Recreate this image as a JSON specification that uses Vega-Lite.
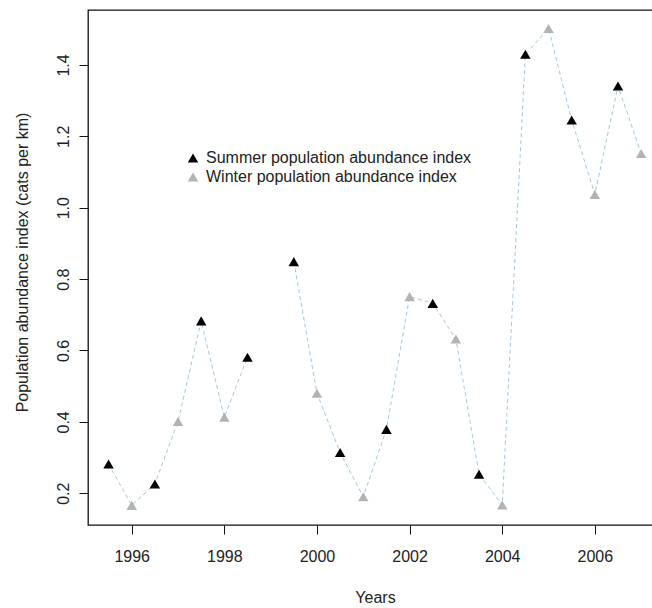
{
  "$schema": "https://vega.github.io/schema/vega-lite/v6.json",
  "width": 574,
  "height": 515,
  "autosize": {"type": "none"},
  "padding": {"left": 88, "top": 10, "right": 0, "bottom": 83},
  "background": "white",
  "config": {
    "font": "Liberation Sans",
    "view": {"stroke": "#111111", "strokeWidth": 1.3},
    "axis": {
      "grid": false,
      "domain": false,
      "tickColor": "#111111",
      "tickSize": 9,
      "tickWidth": 1,
      "labelFontSize": 16,
      "labelColor": "#222222",
      "titleFontSize": 16,
      "titleFontWeight": "normal",
      "titleColor": "#222222"
    }
  },
  "data": {
    "values": [
      {"year": 1995.5, "season": "Summer population abundance index", "index": 0.282},
      {"year": 1996.0, "season": "Winter population abundance index", "index": 0.166},
      {"year": 1996.5, "season": "Summer population abundance index", "index": 0.226},
      {"year": 1997.0, "season": "Winter population abundance index", "index": 0.401},
      {"year": 1997.5, "season": "Summer population abundance index", "index": 0.683},
      {"year": 1998.0, "season": "Winter population abundance index", "index": 0.413},
      {"year": 1998.5, "season": "Summer population abundance index", "index": 0.581},
      {"year": 1999.0, "season": "Winter population abundance index", "index": null},
      {"year": 1999.5, "season": "Summer population abundance index", "index": 0.849},
      {"year": 2000.0, "season": "Winter population abundance index", "index": 0.480},
      {"year": 2000.5, "season": "Summer population abundance index", "index": 0.314},
      {"year": 2001.0, "season": "Winter population abundance index", "index": 0.190},
      {"year": 2001.5, "season": "Summer population abundance index", "index": 0.379},
      {"year": 2002.0, "season": "Winter population abundance index", "index": 0.751},
      {"year": 2002.5, "season": "Summer population abundance index", "index": 0.732},
      {"year": 2003.0, "season": "Winter population abundance index", "index": 0.632},
      {"year": 2003.5, "season": "Summer population abundance index", "index": 0.253},
      {"year": 2004.0, "season": "Winter population abundance index", "index": 0.167},
      {"year": 2004.5, "season": "Summer population abundance index", "index": 1.430},
      {"year": 2005.0, "season": "Winter population abundance index", "index": 1.502},
      {"year": 2005.5, "season": "Summer population abundance index", "index": 1.246},
      {"year": 2006.0, "season": "Winter population abundance index", "index": 1.037},
      {"year": 2006.5, "season": "Summer population abundance index", "index": 1.341},
      {"year": 2007.0, "season": "Winter population abundance index", "index": 1.152}
    ]
  },
  "encoding": {
    "x": {
      "field": "year",
      "type": "quantitative",
      "scale": {"domain": [1995.056, 2007.45], "nice": false, "zero": false},
      "axis": {
        "title": "Years",
        "values": [1996, 1998, 2000, 2002, 2004, 2006],
        "format": "d",
        "labelPadding": 14,
        "titleBaseline": "alphabetic",
        "titleY": 77
      }
    },
    "y": {
      "field": "index",
      "type": "quantitative",
      "scale": {"domain": [0.111, 1.554], "nice": false, "zero": false},
      "axis": {
        "title": "Population abundance index (cats per km)",
        "values": [0.2, 0.4, 0.6, 0.8, 1.0, 1.2, 1.4],
        "format": ".1f",
        "labelAngle": 270,
        "labelAlign": "center",
        "labelBaseline": "bottom",
        "labelPadding": 8,
        "titleBaseline": "alphabetic",
        "titleX": -61,
        "titleY": 252
      }
    }
  },
  "layer": [
    {
      "mark": {
        "type": "line",
        "color": "#9ecae1",
        "strokeDash": [4, 3],
        "strokeWidth": 1,
        "invalid": "break-paths-show-domains"
      }
    },
    {
      "mark": {"type": "point", "shape": "triangle-up", "filled": true, "size": 110, "opacity": 1},
      "encoding": {
        "color": {
          "field": "season",
          "type": "nominal",
          "scale": {
            "domain": ["Summer population abundance index", "Winter population abundance index"],
            "range": ["#000000", "#b3b3b3"]
          },
          "legend": {
            "title": null,
            "orient": "none",
            "legendX": 97,
            "legendY": 140,
            "padding": 0,
            "labelFontSize": 16,
            "labelColor": "#222222",
            "labelOffset": 5,
            "labelLimit": 0,
            "rowPadding": 3,
            "symbolType": "triangle-up",
            "symbolSize": 110,
            "symbolStrokeWidth": 0,
            "symbolOpacity": 1
          }
        }
      }
    }
  ]
}
